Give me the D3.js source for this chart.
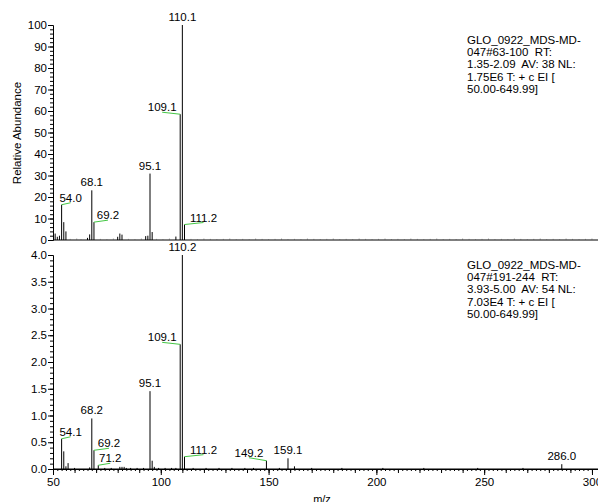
<!DOCTYPE html>
<html>
<head>
<meta charset="utf-8">
<script src="https://cdn.jsdelivr.net/npm/d3@7"></script>
<style>
  body { margin: 0; background: #fff; }
  svg { display: block; font-family: "Liberation Sans", Arial, sans-serif; }
  .info { white-space: pre; }
</style>
</head>
<body>
<svg id="chart" width="598" height="502"></svg>
<script>
// ---- data ----

// upper spectrum, scan 63-100, relative abundance (%)
var topMz  = [51, 52, 53, 54, 55, 56, 66, 67, 68, 69, 80, 81, 82, 93, 94, 95, 96, 107, 109, 110, 111];
var topInt = [3, 1.5, 2, 16.4, 8.3, 4, 1, 2.6, 23.1, 8.3, 1.5, 3, 2.5, 1.8, 2, 30.9, 3.7, 1.6, 58.5, 100, 7.2];
// baseline noise of upper spectrum
var topNoiseMz  = [58, 61, 63, 72, 75, 78, 85, 88, 91, 98, 101, 104, 114, 117, 120, 123, 126, 129, 132, 135, 138, 141,
                   144, 147, 150, 153, 156, 159, 162, 165, 168, 171, 174, 177, 180, 183, 186, 189, 192, 195, 198, 201,
                   204, 207, 210, 213, 216, 219, 222, 225, 228, 231, 234, 237, 240, 243, 246, 249, 252, 255, 258, 261,
                   264, 267, 270, 273, 276, 279, 282, 285, 288, 291, 294, 297, 300];
var topNoiseInt = [0.5, 0.6, 0.4, 0.5, 0.4, 0.6, 0.5, 0.4, 0.6, 0.5, 0.4, 0.6, 0.5, 0.4, 0.6, 0.5, 0.4, 0.5, 0.6, 0.4,
                   0.5, 0.4, 0.6, 0.5, 0.4, 0.5, 0.6, 0.4, 0.5, 0.4, 0.6, 0.5, 0.4, 0.5, 0.6, 0.4, 0.5, 0.4, 0.6, 0.5,
                   0.4, 0.5, 0.6, 0.4, 0.5, 0.4, 0.6, 0.5, 0.4, 0.5, 0.6, 0.4, 0.5, 0.4, 0.6, 0.5, 0.4, 0.5, 0.6, 0.4,
                   0.5, 0.4, 0.6, 0.5, 0.4, 0.5, 0.6, 0.4, 0.5, 0.4, 0.6, 0.5, 0.4, 0.5, 0.6];
var topLabelText = ["54.0", "68.1", "69.2", "95.1", "109.1", "110.1", "111.2"];
var topLabelMz   = [54, 68, 69, 95, 109, 110, 111];
var topInfo = ["GLO_0922_MDS-MD-", "047#63-100  RT:", "1.35-2.09  AV: 38 NL:", "1.75E6 T: + c EI [", "50.00-649.99]"];

// lower spectrum, scan 191-244
var botMz  = [54, 55, 56, 57, 60, 67, 68, 69, 71, 74, 77, 81, 82, 83, 84, 86, 89, 92, 95, 96, 97, 99, 102, 105, 107,
              109, 110, 111, 115, 121, 127, 133, 139, 143, 149, 155, 159, 162, 170, 184, 203, 222, 247, 268, 286];
var botInt = [0.565, 0.33, 0.05, 0.11, 0.02, 0.03, 0.945, 0.35, 0.07, 0.02, 0.02, 0.04, 0.04, 0.04, 0.02, 0.02, 0.02,
              0.02, 1.455, 0.155, 0.04, 0.02, 0.02, 0.02, 0.02, 2.33, 4.0, 0.23, 0.02, 0.02, 0.02, 0.02, 0.02, 0.02,
              0.155, 0.02, 0.2, 0.05, 0.02, 0.02, 0.02, 0.02, 0.02, 0.02, 0.09];
var botLabelText = ["54.1", "68.2", "69.2", "71.2", "95.1", "109.1", "110.2", "111.2", "149.2", "159.1", "286.0"];
var botLabelMz   = [54, 68, 69, 71, 95, 109, 110, 111, 149, 159, 286];
var botInfo = ["GLO_0922_MDS-MD-", "047#191-244  RT:", "3.93-5.00  AV: 54 NL:", "7.03E4 T: + c EI [", "50.00-649.99]"];

var xTickValues   = [50, 100, 150, 200, 250, 300];
var topYTickValues = [0, 10, 20, 30, 40, 50, 60, 70, 80, 90, 100];
var botYTickValues = [0, 0.5, 1, 1.5, 2, 2.5, 3, 3.5, 4];

// ---- layout ----
var svg = d3.select('#chart');
var fontSize = 11.5;
var green = '#44c744';

var x = d3.scaleLinear().domain([50, 302.8]).range([53, 598]);
var yTop = d3.scaleLinear().domain([0, 100]).range([240, 25]);
var yBot = d3.scaleLinear().domain([0, 4]).range([469, 255]);

// leader offsets for labels pushed aside (label centre dx, baseline dy from peak top)
var topLeaders = { 54: [9, -3], 69: [14, -3], 109: [-18, -3], 111: [19, -3] };
var botLeaders = { 54: [9, -3], 69: [15, -3], 71: [12, -3], 109: [-18, -3], 111: [19, -3], 149: [-17.5, -4] };

function styleAxis(g) {
    g.attr('font-size', fontSize).attr('font-family', null);
    g.selectAll('path.domain').attr('stroke', '#000');
    g.selectAll('line').attr('stroke', '#000');
    g.selectAll('text').attr('fill', '#000');
}

function drawPanel(y, ticks, minorStep, fmt, mz, vals, noiseMz, noiseVals, labelText, labelMz, leaders, info, infoTop) {
    var panel = svg.append('g');

    // minor y ticks
    panel.append('g')
        .attr('transform', 'translate(53,0)')
        .call(d3.axisLeft(y).tickValues(d3.range(0, y.domain()[1] + minorStep / 2, minorStep))
            .tickSize(3).tickSizeOuter(0).tickFormat(''))
        .call(styleAxis);
    // major y ticks
    panel.append('g')
        .attr('transform', 'translate(53,0)')
        .call(d3.axisLeft(y).tickValues(ticks).tickSize(5).tickSizeOuter(0).tickPadding(1).tickFormat(fmt))
        .call(styleAxis);

    // baseline
    panel.append('line')
        .attr('x1', x(50)).attr('x2', x.range()[1])
        .attr('y1', y(0)).attr('y2', y(0))
        .attr('stroke', '#000');

    // noise
    if (noiseMz) {
        panel.append('g').selectAll('line')
            .data(noiseMz)
            .enter().append('line')
            .attr('x1', function(d) { return x(d); })
            .attr('x2', function(d) { return x(d); })
            .attr('y1', y(0))
            .attr('y2', function(d, i) { return y(noiseVals[i]); })
            .attr('stroke', '#666');
    }

    // peaks
    panel.append('g').selectAll('line')
        .data(mz)
        .enter().append('line')
        .attr('x1', function(d) { return x(d); })
        .attr('x2', function(d) { return x(d); })
        .attr('y1', y(0))
        .attr('y2', function(d, i) { return y(vals[i]); })
        .attr('stroke', '#000');

    // peak labels
    labelMz.forEach(function(m, i) {
        var px = x(m), py = y(vals[mz.indexOf(m)]);
        var off = leaders[m];
        var lx = px, ly = py - 4;
        if (off) {
            lx = px + off[0];
            ly = py + off[1];
            panel.append('line')
                .attr('x1', px).attr('y1', py)
                .attr('x2', lx).attr('y2', ly + 1)
                .attr('stroke', green);
        }
        panel.append('text')
            .attr('x', lx).attr('y', ly)
            .attr('text-anchor', 'middle')
            .attr('font-size', fontSize)
            .text(labelText[i]);
    });

    // scan info block
    panel.append('text')
        .attr('class', 'info')
        .attr('font-size', 11.5)
        .selectAll('tspan')
        .data(info)
        .enter().append('tspan')
        .attr('x', 467)
        .attr('y', function(d, i) { return infoTop + i * 12.2; })
        .text(function(d) { return d; });
}

drawPanel(yTop, topYTickValues, 2, d3.format('d'), topMz, topInt, topNoiseMz, topNoiseInt,
    topLabelText, topLabelMz, topLeaders, topInfo, 44);
drawPanel(yBot, botYTickValues, 0.1, d3.format('.1f'), botMz, botInt, null, null,
    botLabelText, botLabelMz, botLeaders, botInfo, 269);

// x axis (bottom only): minor, medium, major ticks
svg.append('g')
    .attr('transform', 'translate(0,469)')
    .call(d3.axisBottom(x).tickValues(d3.range(50, 302, 2)).tickSize(2).tickSizeOuter(0).tickFormat(''))
    .call(styleAxis);
svg.append('g')
    .attr('transform', 'translate(0,469)')
    .call(d3.axisBottom(x).tickValues(d3.range(50, 302, 10)).tickSize(4).tickSizeOuter(0).tickFormat(''))
    .call(styleAxis);
svg.append('g')
    .attr('transform', 'translate(0,469)')
    .call(d3.axisBottom(x).tickValues(xTickValues).tickSize(6).tickSizeOuter(0).tickPadding(3).tickFormat(d3.format('d')))
    .call(styleAxis);

// axis titles
svg.append('text')
    .attr('transform', 'translate(21,133) rotate(-90)')
    .attr('text-anchor', 'middle')
    .attr('font-size', fontSize)
    .text('Relative Abundance');

svg.append('text')
    .attr('x', 322).attr('y', 503)
    .attr('text-anchor', 'middle')
    .attr('font-size', 11)
    .text('m/z');
</script>
</body>
</html>
